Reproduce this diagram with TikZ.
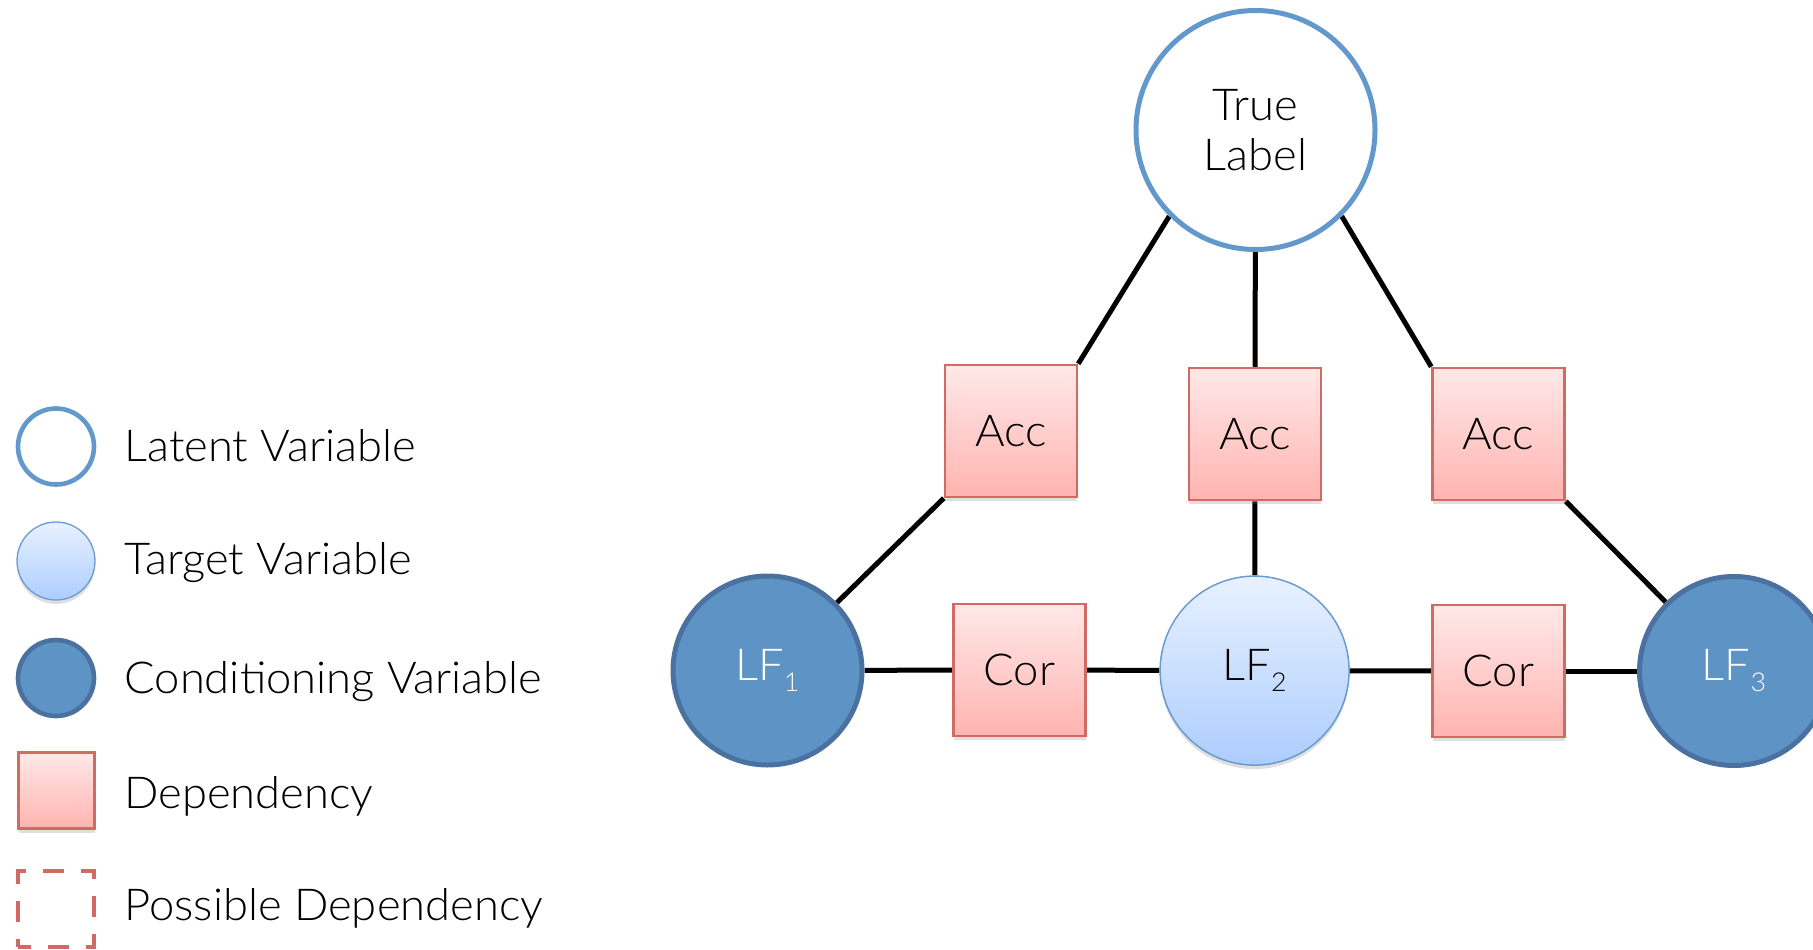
\documentclass[tikz,border=0pt]{standalone}
\usepackage{fontspec}
\setmainfont{Lato}[UprightFont={* Light}, FakeStretch=1.03]
\usetikzlibrary{shadows,backgrounds}

\definecolor{latentblue}{HTML}{6398CC}
\definecolor{lffill}{HTML}{5E93C6}
\definecolor{lfborder}{HTML}{4A71A0}
\definecolor{tgborder}{HTML}{6A9BD0}
\definecolor{tgtop}{HTML}{E8F1FF}
\definecolor{tgbot}{HTML}{ADCDFF}
\definecolor{depborder}{HTML}{D26A64}
\definecolor{deptop}{HTML}{FFE8E8}
\definecolor{depbot}{HTML}{FFB4B0}

\tikzset{
  txt/.style={font=\fontsize{44}{52}\selectfont},
  latent/.style={circle, draw=latentblue, line width=5pt, fill=white,
    inner sep=0pt, txt},
  lfnode/.style={circle, draw=lfborder, line width=5pt, fill=lffill,
    text=white, inner sep=0pt, txt},
  target/.style={circle, draw=tgborder, line width=1.5pt, top color=tgtop,
    bottom color=tgbot, inner sep=0pt, txt,
    drop shadow={shadow xshift=0pt, shadow yshift=-4pt, opacity=0.25}},
  dep/.style={rectangle, draw=depborder, line width=2.5pt, top color=deptop,
    bottom color=depbot, inner sep=0pt, txt,
    drop shadow={shadow xshift=0pt, shadow yshift=-4pt, opacity=0.25}},
  possible/.style={rectangle, draw=depborder, line width=4.5pt,
    dash pattern=on 21pt off 17pt, dash phase=8pt, inner sep=0pt},
  edge/.style={draw=black, line width=5pt},
  legtext/.style={anchor=base west, txt},
}

\newcommand{\lfsub}[1]{LF\raisebox{-11pt}{\fontsize{26}{26}\selectfont #1}}

\begin{document}
\begin{tikzpicture}[x=1pt, y=-1pt]
  \useasboundingbox (0,0) rectangle (1813,950);

  % legend
  \node[latent, minimum size=76pt, line width=4.6pt] (lgLatent) at (56,446.5) {};
  \node[target, minimum size=78pt, line width=1.3pt] (lgTarget) at (56,561) {};
  \node[lfnode, minimum size=76pt, line width=4.6pt] (lgCond) at (56,678) {};
  \node[dep, minimum size=76pt, line width=2.2pt] (lgDep) at (56.5,790.5) {};
  \node[possible, minimum size=76pt] (lgPoss) at (56,909) {};

  \node[legtext] (tLatent) at (121,461.5) {Latent Variable};
  \node[legtext] (tTarget) at (121,574) {Target Variable};
  \node[legtext] (tCond)   at (121,693.5) {Conditioning Variable};
  \node[legtext] (tDep)    at (121,808) {Dependency};
  \node[legtext] (tPoss)   at (121,920) {Possible Dependency};

  % factor graph
  \node[latent, minimum size=239pt, align=center] (TL) at (1255.5,130) {True\\[-2pt]Label};

  \node[dep, minimum size=132pt] (acc1) at (1011,431) {Acc};
  \node[dep, minimum size=132pt] (acc2) at (1255,434) {Acc};
  \node[dep, minimum size=132pt] (acc3) at (1498.5,434) {Acc};

  \node[lfnode, minimum size=189pt] (lf1) at (767.5,670.5) {\lfsub{1}};
  \node[dep, minimum size=132pt] (cor1) at (1019.5,670) {Cor};
  \node[target, minimum size=189pt] (lf2) at (1254.6,670.6) {\lfsub{2}};
  \node[dep, minimum size=132pt] (cor2) at (1498.5,671) {Cor};
  \node[lfnode, minimum size=189pt] (lf3) at (1734,671) {\lfsub{3}};

  \begin{scope}[on background layer]
    \draw[edge] (TL.225) -- (acc1.north east);
    \draw[edge] (TL) -- (acc2);
    \draw[edge] (TL.315) -- (acc3.north west);
    \draw[edge] (acc1.south west) -- (lf1);
    \draw[edge] (acc2) -- (lf2);
    \draw[edge] (acc3.south east) -- (lf3);
    \draw[edge] (lf1) -- (cor1);
    \draw[edge] (cor1) -- (lf2);
    \draw[edge] (lf2) -- (cor2);
    \draw[edge] (cor2) -- (lf3);
  \end{scope}
\end{tikzpicture}
\end{document}
